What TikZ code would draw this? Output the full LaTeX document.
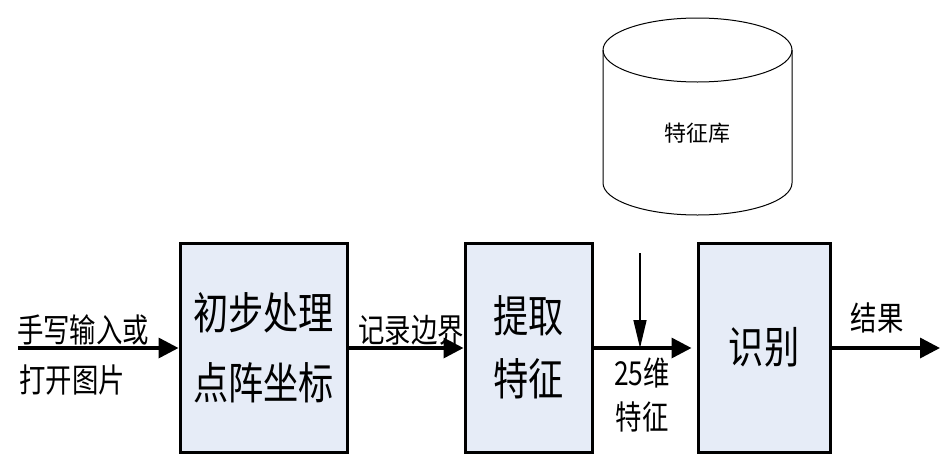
\documentclass[tikz,border=0pt]{standalone}
\usepackage{fontspec}
\newfontfamily\cjk[FakeStretch=0.8]{Noto Sans CJK SC}
\newfontfamily\cjkn{Noto Sans CJK SC}
\usetikzlibrary{arrows.meta}
\definecolor{boxfill}{RGB}{230,236,247}
\begin{document}
\begin{tikzpicture}[x=1pt,y=-1pt,
  procbox/.style={draw=black, line width=3pt, fill=boxfill, minimum width=167pt, minimum height=209pt, inner sep=0pt, align=center},
  bigtxt/.style={font=\cjk\fontsize{44}{70}\selectfont},
  lbl/.style={font=\cjk\fontsize{33}{44}\selectfont, inner sep=0pt},
  mainarrow/.style={line width=3.5pt, -{Triangle[length=20pt,width=20pt]}},
  thinarrow/.style={line width=1.6pt, -{Triangle[length=28pt,width=13pt]}}
]
\useasboundingbox (0,0) rectangle (952,461);
% boxes
\node[procbox, bigtxt] (b1) at (263.5,347.5) {初步处理\\点阵坐标};
\node[procbox, bigtxt, minimum width=127pt, font=\cjk\fontsize{44}{63}\selectfont] (b2) at (528.5,347.5) {提取\\特征};
\node[procbox, bigtxt, minimum width=132pt] (b3) at (764,347.5) {识别};
% database cylinder
\draw[line width=1pt, fill=white] (603,50) -- (603,183) arc[start angle=180, end angle=360, x radius=94.5pt, y radius=32pt] -- (792,50);
\draw[line width=1pt] (697.5,50) ellipse[x radius=94.5pt, y radius=32pt];
\node[font=\cjkn\fontsize{22}{26}\selectfont] (db) at (697.5,133) {特征库};
% connectors
\coordinate (in) at (18,348);
\coordinate (out) at (940,348);
\coordinate (vtop) at (640,253);
\coordinate (vbot) at (640,348);
\draw[mainarrow] (in) -- (b1.west |- in);
\draw[mainarrow] (b1.east |- in) -- (b2.west |- in);
\draw[mainarrow, shorten >=5pt] (b2.east |- in) -- (b3.west |- in);
\draw[mainarrow] (b3.east |- in) -- (out);
\draw[thinarrow] (vtop) -- (vbot);
% labels
\node[lbl] (l1) at (83,330) {手写输入或};
\node[lbl] (l2) at (72,380) {打开图片};
\node[lbl] (l3) at (411,330) {记录边界};
\node[lbl] (l4) at (642,373) {25维};
\node[lbl] (l5) at (642,417) {特征};
\node[lbl] (l6) at (877,318) {结果};
\end{tikzpicture}
\end{document}
